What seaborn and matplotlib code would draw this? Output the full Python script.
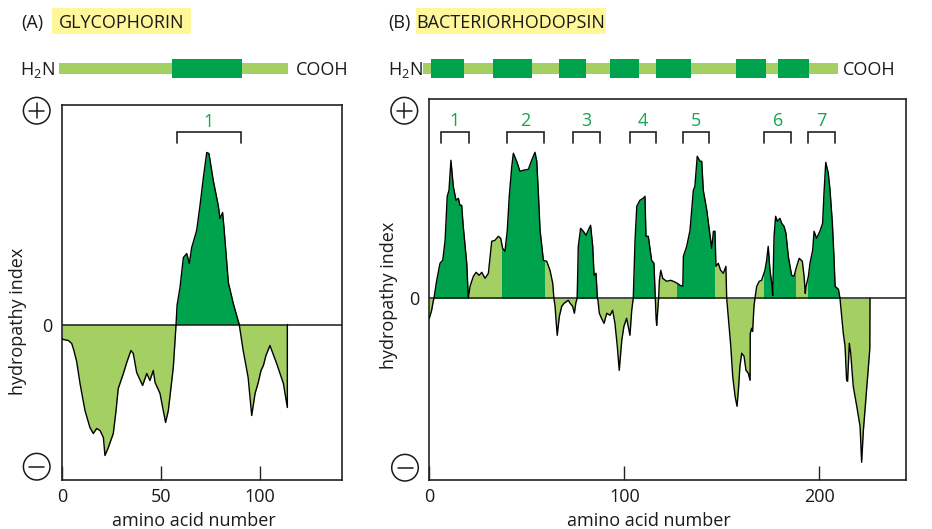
import matplotlib
matplotlib.use("Agg")
import matplotlib.pyplot as plt
import seaborn as sns
import pandas as pd
from matplotlib.patches import Rectangle, Ellipse
from matplotlib.lines import Line2D

# ---------------- DATA ----------------
# Panel A: glycophorin hydropathy profile
glyco_x = [0, 0.7, 3.2, 4.9, 6.0, 7.4, 9.1, 11.6, 14.1, 15.8, 17.5, 19.2, 20.9, 21.7, 23.4,
           25.9, 27.3, 28.4, 31.0, 32.7, 34.8, 36.0, 37.7, 40.7, 42.8, 44.4, 46.1, 47.0, 49.5,
           52.3, 53.7, 56.2, 57.6, 58.1, 59.6, 61.3, 63.0, 64.3, 65.5, 68.0, 69.7, 71.4, 73.1,
           74.2, 76.4, 78.9, 79.8, 81.1, 81.8, 84.0, 86.5, 89.5, 91.5, 94.0, 95.8, 97.5, 99.1,
           100.5, 101.7, 103.0, 105.0, 108.4, 111.8, 113.8, 113.8]
glyco_y = [-0.14, -0.15, -0.16, -0.19, -0.26, -0.37, -0.59, -0.86, -1.03, -1.09, -1.04, -1.06,
           -1.13, -1.31, -1.23, -1.09, -0.86, -0.64, -0.49, -0.38, -0.26, -0.29, -0.48, -0.61,
           -0.49, -0.56, -0.46, -0.58, -0.69, -0.98, -0.86, -0.43, 0.0, 0.19, 0.37, 0.67, 0.71,
           0.61, 0.77, 0.94, 1.19, 1.47, 1.72, 1.71, 1.44, 1.19, 1.06, 1.12, 0.97, 0.42, 0.21,
           0.0, -0.26, -0.53, -0.91, -0.69, -0.58, -0.46, -0.41, -0.31, -0.21, -0.39, -0.59,
           -0.83, 0.0]
glyco_tm_regions = [(57.6, 89.5)]          # dark-green shaded segments
glyco_brackets = [(57.9, 90.2)]
glyco_bracket_labels = ["1"]
glyco_chain = (-1.3, 114.1)                # schematic chain (amino acids)
glyco_boxes = [(55.6, 90.8)]
glyco_xticks = [0, 50, 100]

# Panel B: bacteriorhodopsin hydropathy profile
bact_x = [0, 1.2, 2.1, 2.4, 3.8, 5.5, 6.9, 8.1, 9.2, 10.1, 11.1, 12.3, 13.7, 14.9, 15.7, 16.6,
          17.4, 19.2, 20.0, 20.9, 22.6, 24.0, 25.6, 26.9, 28.6, 30.3, 32.0, 33.7, 35.4, 36.6,
          37.6, 38.8, 40.0, 41.0, 42.3, 43.1, 44.8, 46.5, 48.2, 50.8, 52.5, 54.2, 55.1, 56.0,
          56.8, 58.5, 60.2, 61.9, 63.3, 63.9, 64.5, 65.0, 65.6, 66.7, 67.9, 69.1, 70.5, 71.3,
          72.2, 73.5, 74.4, 75.1, 75.8, 76.0, 76.4, 77.6, 79.0, 80.4, 81.5, 82.7, 83.8, 84.5,
          85.5, 86.2, 86.5, 87.2, 88.3, 89.6, 91.0, 92.7, 94.0, 95.2, 96.4, 97.4, 98.7, 99.8,
          101.2, 102.0, 102.9, 103.8, 104.6, 105.5, 106.4, 108.0, 109.7, 110.6, 111.1, 112.3,
          114.0, 115.2, 115.9, 116.3, 116.6, 117.2, 117.6, 118.0, 118.7, 119.7, 121.7, 123.8,
          125.1, 127.2, 128.6, 130.0, 130.3, 132.0, 133.7, 135.4, 136.2, 137.4, 138.8, 139.7,
          140.5, 142.3, 144.0, 144.8, 145.7, 146.5, 147.0, 148.2, 149.4, 150.8, 152.1, 152.5,
          153.3, 154.6, 155.6, 156.8, 157.8, 158.5, 159.3, 160.2, 161.4, 162.4, 163.6, 164.5,
          164.6, 165.3, 165.8, 166.5, 167.0, 167.9, 169.2, 170.4, 172.1, 173.0, 173.8, 174.7,
          175.6, 176.1, 176.8, 177.6, 178.5, 179.8, 180.7, 181.9, 182.9, 184.1, 185.8, 187.0,
          188.4, 189.7, 191.3, 192.2, 192.8, 193.2, 194.4, 195.2, 196.6, 197.3, 198.6, 200.3,
          201.7, 202.4, 203.3, 204.6, 205.5, 206.7, 207.5, 208.1, 209.8, 210.6, 211.0, 211.5,
          212.3, 213.2, 214.0, 214.5, 215.4, 216.1, 217.4, 219.2, 220.9, 221.7, 222.6, 224.0,
          225.6, 225.9, 226.0]
bact_y = [-0.20, -0.12, -0.02, 0.0, 0.18, 0.35, 0.38, 0.58, 1.02, 1.08, 1.38, 1.12, 0.98, 1.00,
          0.93, 0.93, 0.72, 0.35, 0.0, 0.12, 0.22, 0.26, 0.23, 0.26, 0.20, 0.25, 0.57, 0.58,
          0.62, 0.60, 0.50, 0.47, 0.68, 1.02, 1.32, 1.45, 1.37, 1.27, 1.28, 1.29, 1.38, 1.46,
          1.37, 1.02, 0.68, 0.38, 0.37, 0.28, 0.15, 0.0, -0.08, -0.22, -0.37, -0.18, -0.08,
          -0.05, -0.03, -0.02, -0.05, -0.08, -0.15, -0.05, 0.0, 0.15, 0.52, 0.70, 0.67, 0.63,
          0.68, 0.73, 0.52, 0.23, 0.25, 0.0, -0.02, -0.15, -0.20, -0.25, -0.15, -0.17, -0.12,
          -0.25, -0.48, -0.72, -0.42, -0.28, -0.20, -0.28, -0.37, -0.12, 0.0, 0.58, 0.92, 0.98,
          1.00, 1.02, 0.62, 0.62, 0.38, 0.35, 0.0, -0.20, -0.27, -0.10, 0.0, 0.18, 0.28, 0.20,
          0.17, 0.18, 0.17, 0.15, 0.13, 0.12, 0.42, 0.52, 0.68, 1.08, 1.12, 1.42, 1.37, 1.37,
          1.08, 0.88, 0.62, 0.50, 0.67, 0.67, 0.32, 0.35, 0.28, 0.25, 0.32, 0.0, -0.18, -0.48,
          -0.78, -0.98, -1.08, -0.92, -0.68, -0.55, -0.58, -0.72, -0.75, -0.82, -0.35, -0.30,
          -0.33, -0.08, 0.0, 0.12, 0.17, 0.18, 0.28, 0.38, 0.52, 0.28, 0.15, 0.03, 0.62, 0.82,
          0.77, 0.80, 0.75, 0.72, 0.65, 0.42, 0.23, 0.22, 0.32, 0.40, 0.37, 0.22, 0.05, 0.12,
          0.22, 0.35, 0.48, 0.67, 0.60, 0.67, 0.75, 1.05, 1.36, 1.25, 1.08, 0.75, 0.42, 0.12,
          0.09, 0.0, -0.08, -0.18, -0.35, -0.48, -0.82, -0.83, -0.45, -0.55, -0.88, -1.08,
          -1.28, -1.64, -1.32, -0.98, -0.58, -0.50, 0.0]
bact_tm_regions = [(2.4, 20.0), (37.3, 58.8), (75.8, 86.2), (104.6, 116.0),
                   (127.2, 146.0), (171.6, 187.4), (194.4, 210.6)]
bact_brackets = [(5.8, 20.5), (39.7, 58.8), (73.8, 87.5), (102.9, 116.3),
                 (130.0, 143.6), (171.8, 185.5), (194.4, 208.1)]
bact_bracket_labels = ["1", "2", "3", "4", "5", "6", "7"]
bact_chain = (-3.0, 209.4)
bact_boxes = [(0.7, 17.8), (32.5, 52.8), (66.4, 80.2), (92.7, 107.7),
              (116.4, 134.0), (157.1, 172.7), (179.0, 194.6)]
bact_xticks = [0, 100, 200]

# ---------------- STYLE ----------------
sns.set_theme(style="white")
plt.rcParams["font.family"] = ["Open Sans", "DejaVu Sans"]
plt.rcParams["mathtext.fontset"] = "custom"
plt.rcParams["mathtext.rm"] = "Open Sans"
plt.rcParams["mathtext.default"] = "regular"

DARK = "#00A34D"
LIGHT = "#A4CF63"
TXT_GREEN = "#12A650"
YELLOW = "#FFF799"
INK = "#1a1a1a"
FS = 13

W, H = 932, 529
fig = plt.figure(figsize=(W / 100, H / 100), dpi=100)


def fx(px):
    return px / W


def fy(py):
    return 1 - py / H


def panel(left, right, top, bottom, xlim, ylim, xs, ys, tm, brackets, blabels, xticks,
          chain, boxes):
    ax = fig.add_axes([fx(left), fy(bottom), (right - left) / W, (bottom - top) / H])
    ax.set_xlim(*xlim)
    ax.set_ylim(*ylim)
    ax.fill_between(xs, ys, 0, color=LIGHT, lw=0, zorder=1)
    for (a, b) in tm:
        poly = ax.fill_between(xs, ys, 0, color=DARK, lw=0, zorder=2)
        clip = Rectangle((a, 0), b - a, ylim[1], transform=ax.transData)
        poly.set_clip_path(clip)
    ax.axhline(0, color=INK, lw=1.1, zorder=3)
    df = pd.DataFrame({"aa": xs, "h": ys})
    sns.lineplot(data=df, x="aa", y="h", ax=ax, color="black", lw=1.0,
                 estimator=None, sort=False, zorder=4)
    ax.set_xlabel("")
    ax.set_ylabel("")
    for s in ax.spines.values():
        s.set_color("#222222")
        s.set_linewidth(1.2)
        s.set_visible(True)
    ax.set_xticks(xticks)
    ax.set_xticklabels([str(t) for t in xticks])
    ax.tick_params(axis="x", direction="in", length=10, width=1.0, color="#222222",
                   pad=6, labelsize=FS, labelcolor=INK, bottom=True)
    ax.set_yticks([0])
    ax.set_yticklabels(["0"])
    ax.tick_params(axis="y", length=0, pad=7, labelsize=FS, labelcolor=INK)
    span = ylim[1] - ylim[0]
    ytop = ylim[1] - span * (132.3 - top) / (bottom - top)
    ybot = ylim[1] - span * (143.3 - top) / (bottom - top)
    ylab = ylim[1] - span * (121.5 - top) / (bottom - top)
    for (a, b), lab in zip(brackets, blabels):
        ax.plot([a, a, b, b], [ybot, ytop, ytop, ybot], color="#222222", lw=1.2,
                zorder=5, solid_joinstyle="miter")
        ax.text((a + b) / 2, ylab, lab, color=TXT_GREEN, fontsize=FS,
                ha="center", va="center", zorder=5)
    bar = fig.add_axes([fx(left), fy(90), (right - left) / W, 40 / H])
    bar.set_xlim(*xlim)
    bar.set_ylim(0, 40)
    bar.axis("off")
    yc = 90 - 68.6
    bar.barh(yc, chain[1] - chain[0], left=chain[0], height=11.5, color=LIGHT,
             lw=0, clip_on=False)
    for (a, b) in boxes:
        bar.barh(yc, b - a, left=a, height=18.7, color=DARK, lw=0, clip_on=False)
    return ax


axA = panel(62, 342, 105, 480, (0, 141.4), (-1.555, 2.195), glyco_x, glyco_y,
            glyco_tm_regions, glyco_brackets, glyco_bracket_labels, glyco_xticks,
            glyco_chain, glyco_boxes)
axB = panel(429.3, 905.7, 99, 480, (0, 244.3), (-1.817, 1.993), bact_x, bact_y,
            bact_tm_regions, bact_brackets, bact_bracket_labels, bact_xticks,
            bact_chain, bact_boxes)

for cx, cy in [(194, 521), (649, 521)]:
    fig.text(fx(cx), fy(cy), "amino acid number", ha="center", va="center",
             fontsize=FS, color=INK)
for cx, cy in [(18.3, 321), (388.7, 295)]:
    fig.text(fx(cx), fy(cy), "hydropathy index", ha="center", va="center",
             rotation=90, fontsize=FS, color=INK)

for (lx, letter), (bx0, bx1, name) in [((21.7, "(A)"), (51.7, 190.7, "GLYCOPHORIN")),
                                       ((388.3, "(B)"), (415.7, 606.0, "BACTERIORHODOPSIN"))]:
    fig.add_artist(Rectangle((fx(bx0), fy(34.3)), (bx1 - bx0) / W, 26 / H,
                             transform=fig.transFigure, color=YELLOW, lw=0, zorder=0))
    fig.text(fx(lx), fy(28.3), letter, ha="left", va="baseline", fontsize=FS, color=INK)
    fig.text(fx((bx0 + bx1) / 2), fy(28.3), name, ha="center", va="baseline",
             fontsize=FS, color=INK)

for x_h2n, x_cooh in [(20, 296), (388.3, 842.7)]:
    fig.text(fx(x_h2n), fy(75.3), r"H$_{\mathregular{2}}$N", ha="left", va="baseline",
             fontsize=FS, color=INK)
    fig.text(fx(x_cooh), fy(75.3), "COOH", ha="left", va="baseline",
             fontsize=FS, color=INK)

r = 13.3
L = 7.5
for (cx, cy, sign) in [(36.7, 110.7, "+"), (36.7, 466.7, "-"),
                       (404.3, 110.7, "+"), (405.0, 467.7, "-")]:
    fig.add_artist(Ellipse((fx(cx), fy(cy)), 2 * r / W, 2 * r / H, transform=fig.transFigure,
                           fill=False, ec=INK, lw=1.1))
    fig.add_artist(Line2D([fx(cx - L), fx(cx + L)], [fy(cy), fy(cy)],
                          transform=fig.transFigure, color=INK, lw=1.1))
    if sign == "+":
        fig.add_artist(Line2D([fx(cx), fx(cx)], [fy(cy - L), fy(cy + L)],
                              transform=fig.transFigure, color=INK, lw=1.1))

fig.savefig("out.png", dpi=100)
